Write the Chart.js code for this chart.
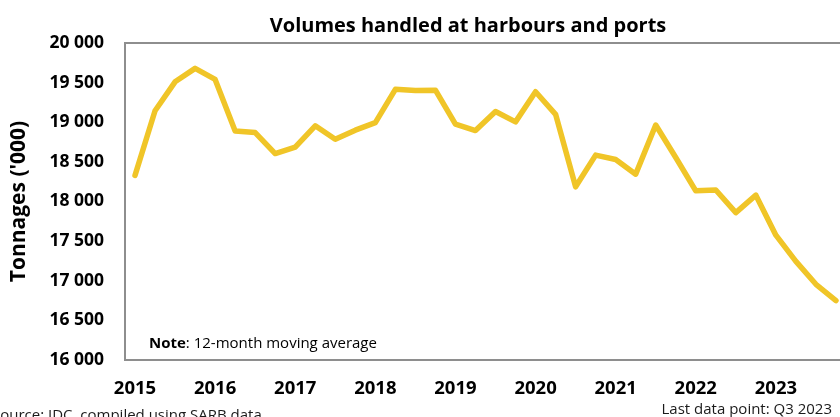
<!DOCTYPE html>
<html>
<head>
<meta charset="utf-8">
<script src="https://cdn.jsdelivr.net/npm/chart.js@4.4.1/dist/chart.umd.min.js"></script>
<style>
  html, body { margin: 0; padding: 0; overflow: hidden; background: #ffffff; width: 840px; height: 417px; }
  #wrap { position: absolute; left: 0; top: 0; width: 854px; height: 417px; }
</style>
</head>
<body>
<div id="wrap"><canvas id="c" width="854" height="417"></canvas></div>
<script>
// Year labels shown on the category axis (one per four quarters)
const years = ['2015', '2016', '2017', '2018', '2019', '2020', '2021', '2022', '2023'];

// Quarterly volumes, tonnages ('000), 12-month moving average
const tonnages = [
  18330, 19145, 19510, 19680, 19540, 18890, 18870, 18605,
  18685, 18955, 18785, 18900, 18995, 19415, 19400, 19405,
  18975, 18895, 19135, 19005, 19385, 19100, 18185, 18585,
  18530, 18345, 18965, 18555, 18135, 18145, 17860, 18080,
  17575, 17245, 16955, 16750
];

// Value-axis tick values
const yTicks = [16000, 16500, 17000, 17500, 18000, 18500, 19000, 19500, 20000];

const chartTitle = 'Volumes handled at harbours and ports';
const yAxisTitle = "Tonnages ('000)";
const noteBold = 'Note';
const noteRest = ': 12-month moving average';
const sourceText = 'Source: IDC, compiled using SARB data';
const lastPointText = 'Last data point: Q3 2023';

// One category per quarter, labelled with the year at each first quarter
const quarterLabels = tonnages.map((_, i) => (i % 4 === 0 ? (years[i / 4] || '') : ''));

const FONT = "'Open Sans', 'Noto Sans', sans-serif";
const fmt = v => String(v).replace(/\B(?=(\d{3})+(?!\d))/g, ' ');

// Frame around the plot area plus the free-standing texts
const decor = {
  id: 'decor',
  beforeDatasetsDraw(chart) {
    const { ctx, chartArea: a } = chart;
    ctx.save();
    ctx.strokeStyle = '#8e8e8e';
    ctx.lineWidth = 2;
    ctx.strokeRect(a.left, a.top, a.right - a.left, a.bottom - a.top);
    ctx.restore();
  },
  afterDraw(chart) {
    const { ctx } = chart;
    ctx.save();
    ctx.fillStyle = '#000000';
    ctx.textBaseline = 'alphabetic';

    ctx.font = `bold 20px ${FONT}`;
    ctx.textAlign = 'center';
    ctx.fillText(chartTitle, 468, 32);

    ctx.textAlign = 'left';
    ctx.font = `bold 15px ${FONT}`;
    ctx.fillText(noteBold, 149, 348);
    const w = ctx.measureText(noteBold).width;
    ctx.font = `15px ${FONT}`;
    ctx.fillText(noteRest, 149 + w, 348);

    ctx.font = `15px ${FONT}`;
    ctx.fillStyle = '#1a1a1a';
    ctx.fillText(sourceText, -8, 420);

    ctx.textAlign = 'right';
    ctx.fillText(lastPointText, 832, 414);
    ctx.restore();
  }
};

new Chart(document.getElementById('c'), {
  type: 'line',
  data: {
    labels: quarterLabels,
    datasets: [{
      data: tonnages,
      borderColor: '#F0C528',
      borderWidth: 5.5,
      borderJoinStyle: 'round',
      borderCapStyle: 'round',
      pointRadius: 0,
      tension: 0,
      fill: false
    }]
  },
  options: {
    responsive: false,
    animation: false,
    layout: { padding: { top: 43, left: 0, right: 2, bottom: 0 } },
    plugins: { legend: { display: false }, title: { display: false }, tooltip: { enabled: false } },
    scales: {
      x: {
        type: 'category',
        offset: true,
        grid: { display: false, drawTicks: false },
        border: { display: false },
        ticks: {
          autoSkip: false, maxRotation: 0, minRotation: 0, padding: 18,
          color: '#000000', font: { family: FONT, size: 18.5, weight: 'bold' }
        },
        afterFit(scale) { scale.height = 57; }
      },
      y: {
        min: 16000, max: 20000,
        grid: { display: false, drawTicks: false },
        border: { display: false },
        afterBuildTicks(scale) { scale.ticks = yTicks.map(v => ({ value: v })); },
        ticks: {
          padding: 21, color: '#000000',
          font: { family: FONT, size: 17.5, weight: 'bold' },
          callback: v => fmt(v)
        },
        title: {
          display: true, text: yAxisTitle, color: '#000000',
          font: { family: FONT, size: 21, weight: 'bold' },
          padding: { top: 6, bottom: 0 }
        },
        afterFit(scale) { scale.width = 125; }
      }
    }
  },
  plugins: [decor]
});
</script>
</body>
</html>
